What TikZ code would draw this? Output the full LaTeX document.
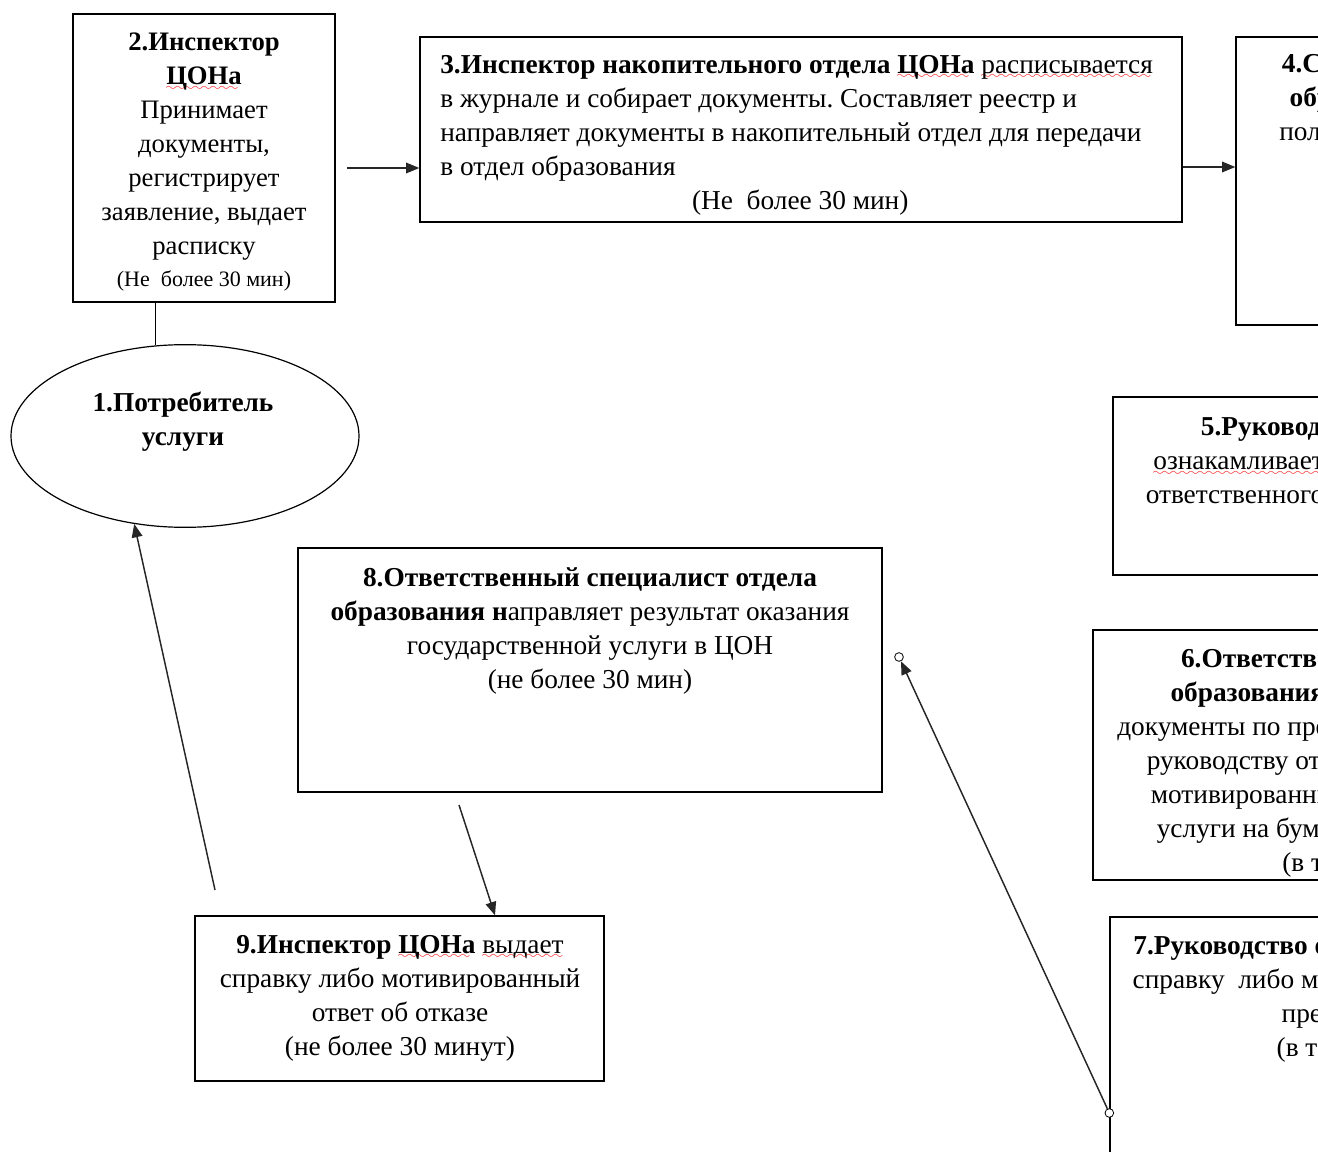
\documentclass[tikz,border=0pt]{standalone}
\usepackage{fontspec}
\setmainfont{Liberation Serif}
\usetikzlibrary{arrows.meta,shapes.geometric,fit,positioning}

% red spell-check wave under a word
\newsavebox\wavebox
\font\wavefont=lasy6 at 8pt
\newcommand\spellwave[1]{\sbox\wavebox{#1}\rlap{\textcolor{red}{\lower4pt\hbox to \wd\wavebox{\leaders\hbox{\wavefont\char58}\hfil}}}\usebox\wavebox}

\tikzset{
  box/.style={draw, line width=1pt, inner sep=0pt},
  txt/.style={inner sep=0pt, align=center, font=\fontsize{20.5}{25.5}\selectfont\frenchspacing},
  arr/.style={line width=1.1pt, draw=black!85, -{Triangle[length=10pt,width=8pt]}},
  glue/.style={circle, draw, fill=white, inner sep=0pt, minimum size=6.5pt, line width=0.6pt},
}

\begin{document}
\begin{tikzpicture}[x=0.75pt, y=-0.75pt]

  \useasboundingbox (0,0) rectangle (1318,1152);
  \clip (0,0) rectangle (1318,1152);

  % 1. consumer
  \node[ellipse, draw, line width=0.9pt, minimum width=261pt, minimum height=137pt, inner sep=0pt] (e1) at (185,436) {};
  \node[txt, anchor=north] (t1) at (183,392) {\textbf{1.Потребитель}\\\textbf{услуги}};

  % 2. inspector
  \node[box, fit={(73,14) (335,302)}] (b2) {};
  \node[txt, anchor=north, font=\fontsize{20}{25.5}\selectfont] (t2) at (204,33) {\textbf{2.Инспектор}\\\textbf{\spellwave{ЦОНа}}\\Принимает\\документы,\\регистрирует\\заявление, выдает\\расписку\\[-2pt]{\fontsize{16.5}{20}\selectfont(Не\ \ более 30 мин)}};

  % 3. accumulation department
  \node[box, fit={(420,37) (1182,222)}] (b3) {};
  \node[txt, anchor=north west, align=left] (t3) at (440,55) {\textbf{3.Инспектор накопительного отдела \spellwave{ЦОНа}} \spellwave{расписывается}\\
    в журнале и собирает документы. Составляет реестр и\\
    направляет документы в накопительный отдел для передачи\\
    в отдел образования\\
    \makebox[540pt]{(Не\ \ более 30 мин)}};

  % 4.
  \node[box, fit={(1236,37) (1532,325)}] (b4) {};
  \node[txt, anchor=north] (t4) at (1367,54) {\textbf{4.Специалист}\\\textbf{образования}\\получает пакет};

  % 5.
  \node[box, fit={(1113,397) (1713,575)}] (b5) {};
  \node[txt, anchor=north] (t5) at (1413,416) {\textbf{5.Руководство отдела образования}\\\spellwave{ознакамливается} с документами, определяет\\ответственного специалиста (в течение 1 дня)};

  % 6.
  \node[box, fit={(1093,630) (1723,880)}] (b6) {};
  \node[txt, anchor=north] (t6) at (1408,648) {\textbf{6.Ответственный специалист отдела}\\\textbf{образования} рассматривает и проверяет\\документы по представлению, готовит и передает\\руководству отдела на подпись справку либо\\мотивированный ответ об отказе в оказании\\услуги на бумажном носителе для подписи\\(в течение пяти дней)};

  % 7.
  \node[box, fit={(1110,917) (1706,1250)}] (b7) {};
  \node[txt, anchor=north] (t7) at (1408,936) {\textbf{7.Руководство отдела подписывает и выдает}\\справку\ \ либо мотивированный ответ об отказе\\предоставлении ЦОН\\(в течение одного дня)};

  % 8. responsible specialist
  \node[box, fit={(298,548) (882,792)}] (b8) {};
  \node[txt, anchor=north] (t8) at (590,567) {\textbf{8.Ответственный специалист отдела}\\\textbf{образования н}аправляет результат оказания\\государственной услуги в ЦОН\\(не более 30 мин)};

  % 9. inspector gives result
  \node[box, fit={(195,916) (604,1081)}] (b9) {};
  \node[txt, anchor=north] (t9) at (400,935) {\textbf{9.Инспектор \spellwave{ЦОНа}} \spellwave{выдает}\\справку либо мотивированный\\ответ об отказе\\(не более 30 минут)};

  % connectors
  \draw[line width=0.9pt] (e1.108 |- b2.south) -- (e1.108);
  \coordinate (a23) at (347,168);
  \draw[arr] (a23) -- (a23 -| b3.west);
  \coordinate (a34) at (1200,167);
  \draw[arr] (a34 -| b3.east) -- (a34 -| b4.west);
  \coordinate (a89) at (459,805);
  \coordinate (a89e) at (495,900);
  \draw[arr] (a89) -- (a89e |- b9.north);
  \coordinate (a91) at (215,890);
  \draw[arr] (a91) -- (e1.240);
  \node[glue] (g7) at (b7.west |- 0,1113) {};
  \node[glue] (g8) at (899,657) {};
  \draw[arr] (g7) -- (g8);

\end{tikzpicture}
\end{document}
